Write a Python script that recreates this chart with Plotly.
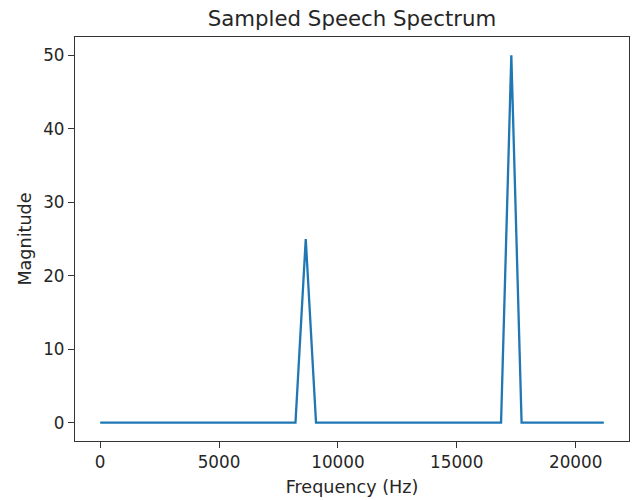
import plotly.graph_objects as go

# Frequency bins (Hz)
freqs = [0, 432, 865, 1297, 1729, 2162, 2594, 3026, 3459, 3891,
         4324, 4756, 5188, 5621, 6053, 6485, 6918, 7350, 7782, 8215,
         8647, 9079, 9512, 9944, 10376, 10809, 11241, 11674, 12106, 12538,
         12971, 13403, 13835, 14268, 14700, 15132, 15565, 15997, 16429, 16862,
         17294, 17726, 18159, 18591, 19024, 19456, 19888, 20321, 20753, 21185]

# Magnitudes
magnitude = [0, 0, 0, 0, 0, 0, 0, 0, 0, 0,
             0, 0, 0, 0, 0, 0, 0, 0, 0, 0,
             25, 0, 0, 0, 0, 0, 0, 0, 0, 0,
             0, 0, 0, 0, 0, 0, 0, 0, 0, 0,
             50, 0, 0, 0, 0, 0, 0, 0, 0, 0]

x_ticks = [0, 5000, 10000, 15000, 20000]
y_ticks = [0, 10, 20, 30, 40, 50]

title_text = "Sampled Speech Spectrum"
x_label = "Frequency (Hz)"
y_label = "Magnitude"

font_family = "DejaVu Sans"
text_color = "#262626"

fig = go.Figure()
fig.add_trace(go.Scatter(
    x=freqs, y=magnitude, mode="lines",
    line=dict(color="#1f77b4", width=2.3),
    showlegend=False,
))

span = freqs[-1] - freqs[0]
xpad = span * 0.05
ypad = (max(magnitude) - min(magnitude)) * 0.05

axis_common = dict(
    showgrid=False, zeroline=False,
    showline=True, linecolor="#333333", linewidth=1.2, mirror=True,
    ticks="outside", ticklen=6, tickwidth=1.2, tickcolor="#333333",
    tickfont=dict(family=font_family, size=16.8, color=text_color),
)

fig.update_layout(
    width=636, height=500,
    margin=dict(l=75, r=7, t=37, b=59),
    paper_bgcolor="white", plot_bgcolor="white",
    font=dict(family=font_family, color=text_color),
    title=dict(text=title_text, x=0.5, xanchor="center",
               xref="paper", yref="container", y=1 - 19 / 500, yanchor="middle",
               font=dict(family=font_family, size=21.3, color=text_color)),
    xaxis=dict(range=[freqs[0] - xpad, freqs[-1] + xpad], tickvals=x_ticks,
               ticktext=[str(v) for v in x_ticks],
               title=dict(text=x_label, standoff=9,
                          font=dict(family=font_family, size=17.6, color=text_color)),
               **axis_common),
    yaxis=dict(range=[min(magnitude) - ypad, max(magnitude) + ypad], tickvals=y_ticks,
               ticktext=[str(v) for v in y_ticks],
               title=dict(text=y_label, standoff=7,
                          font=dict(family=font_family, size=17.6, color=text_color)),
               **axis_common),
)

fig.write_html("out.html")
